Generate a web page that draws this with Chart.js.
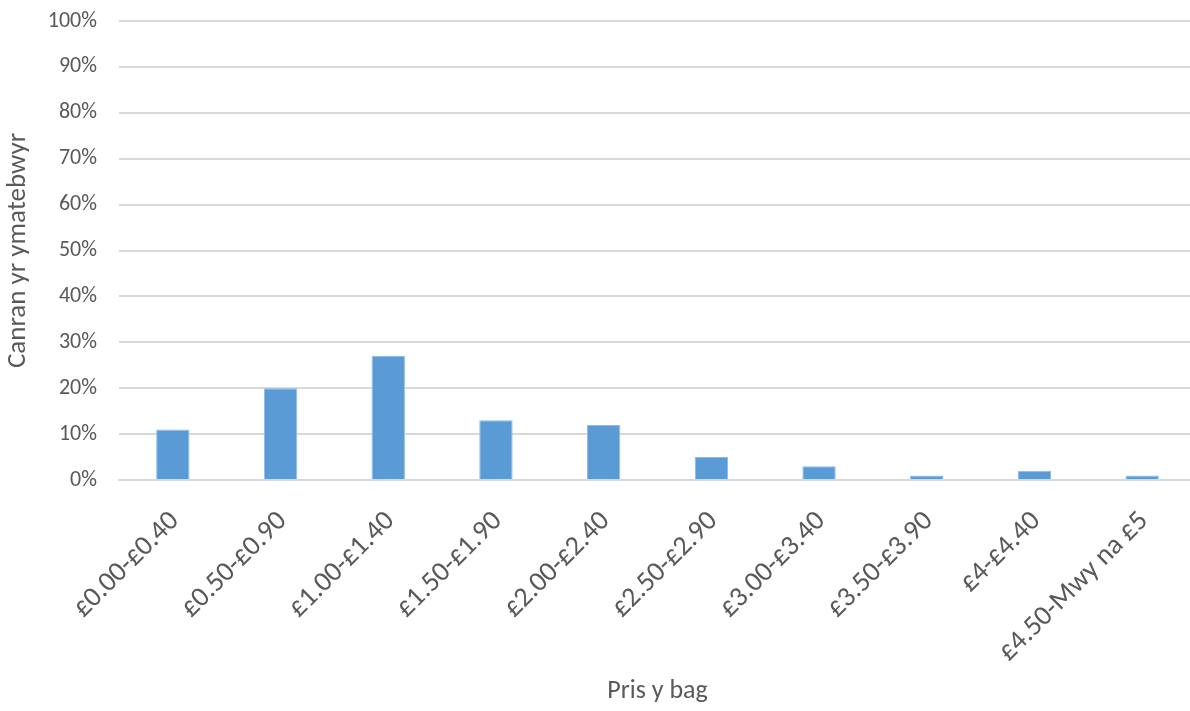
<!DOCTYPE html>
<html>
<head>
<meta charset="utf-8">
<script src="https://cdn.jsdelivr.net/npm/chart.js@4/dist/chart.umd.min.js"></script>
<style>
  html, body { margin: 0; padding: 0; overflow: hidden; background: #fff; }
  #wrap { position: absolute; left: 0; top: 0; width: 1196px; height: 711px; }
</style>
</head>
<body>
<div id="wrap"><canvas id="barChart"></canvas></div>
<script>
// price bands (Welsh labels as in the original)
const categories = ['£0.00-£0.40', '£0.50-£0.90', '£1.00-£1.40', '£1.50-£1.90', '£2.00-£2.40',
  '£2.50-£2.90', '£3.00-£3.40', '£3.50-£3.90', '£4-£4.40', '£4.50-Mwy na £5'];
// percent of respondents
const percentValues = [11, 20, 27, 13, 12, 5, 3, 1, 2, 1];
const yTicks = [0, 10, 20, 30, 40, 50, 60, 70, 80, 90, 100];

const fontName = 'Carlito, Lato, "Open Sans", sans-serif';
const textGrey = '#595959';
const gridGrey = '#d9d9d9';

const ctx = document.getElementById('barChart').getContext('2d');
new Chart(ctx, {
  type: 'bar',
  data: {
    labels: categories,
    datasets: [{
      label: 'Canran',
      data: percentValues,
      backgroundColor: '#5b9bd5',
      borderColor: '#8fbbe6',
      borderWidth: 1,
      barPercentage: 0.62,
      categoryPercentage: 0.5
    }]
  },
  options: {
    responsive: true,
    maintainAspectRatio: false,
    animation: false,
    layout: { padding: { top: 21, right: 0, bottom: 0, left: 0 } },
    plugins: { legend: { display: false }, tooltip: { enabled: false } },
    scales: {
      x: {
        grid: { display: false, drawTicks: false },
        border: { display: true, color: gridGrey, width: 2 },
        ticks: {
          color: textGrey,
          font: { family: fontName, size: 28 },
          maxRotation: 45,
          minRotation: 45,
          labelOffset: 2,
          padding: 25,
          autoSkip: false
        },
        title: {
          display: true,
          text: 'Pris y bag',
          color: textGrey,
          font: { family: fontName, size: 26 },
          padding: { top: 0, bottom: 4 }
        },
        afterFit: scale => { scale.height = 231; }
      },
      y: {
        min: 0,
        max: 100,
        afterBuildTicks: scale => { scale.ticks = yTicks.map(v => ({ value: v })); },
        grid: { color: gridGrey, lineWidth: 2, drawTicks: false },
        border: { display: false },
        ticks: {
          color: textGrey,
          font: { family: fontName, size: 22 },
          padding: 22,
          callback: v => v + '%'
        },
        title: {
          display: true,
          text: 'Canran yr ymatebwyr',
          color: textGrey,
          font: { family: fontName, size: 27 },
          padding: { top: 2, bottom: 0 }
        },
        // fixed width, and no extra top room for the tick labels
        afterFit: scale => {
          scale.width = 119;
          scale.paddingTop = 0;
          scale.paddingBottom = 0;
        }
      }
    }
  }
});
</script>
</body>
</html>
